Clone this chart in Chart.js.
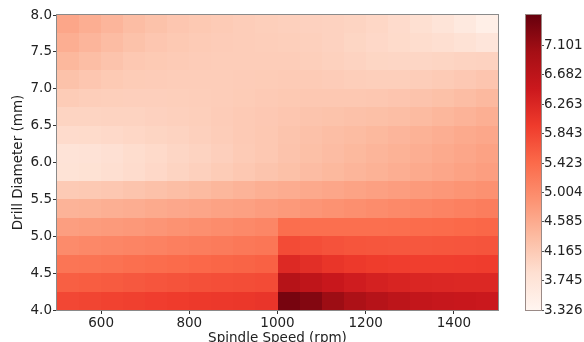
<!DOCTYPE html>
<html>
<head>
<meta charset="utf-8">
<title>Drill diameter vs spindle speed</title>
<script src="https://cdn.jsdelivr.net/npm/chart.js@4/dist/chart.umd.min.js"></script>
<style>
    html, body { margin: 0; padding: 0; background: #fff; }
    #wrap { position: relative; width: 584px; height: 342px; overflow: hidden; }
    #heat { position: absolute; left: 0; top: 0; }
    #cbar { position: absolute; left: 500px; top: 0; }
</style>
</head>
<body>
<div id="wrap">
    <canvas id="heat" width="500" height="342"></canvas>
    <canvas id="cbar" width="84" height="342"></canvas>
</div>
<script>
// cell centres (rpm, mm)
const speeds = [525, 575, 625, 675, 725, 775, 825, 875, 925, 975,
                1025, 1075, 1125, 1175, 1225, 1275, 1325, 1375, 1425, 1475];
const diameters = [7.875, 7.625, 7.375, 7.125, 6.875, 6.625, 6.375, 6.125,
                   5.875, 5.625, 5.375, 5.125, 4.875, 4.625, 4.375, 4.125];

// one row per diameter, top to bottom, one value per speed
const values = [
    [4.65, 4.55, 4.45, 4.35, 4.28, 4.22, 4.18, 4.15, 4.12, 4.10, 4.08, 4.06, 4.05, 4.02, 3.98, 3.92, 3.85, 3.75, 3.62, 3.48],
    [4.55, 4.45, 4.36, 4.28, 4.22, 4.18, 4.15, 4.13, 4.12, 4.11, 4.10, 4.08, 4.05, 4.00, 3.96, 3.93, 3.90, 3.86, 3.80, 3.72],
    [4.42, 4.33, 4.26, 4.20, 4.17, 4.15, 4.13, 4.12, 4.12, 4.12, 4.12, 4.10, 4.07, 4.03, 4.00, 3.99, 3.99, 4.01, 4.03, 4.05],
    [4.28, 4.22, 4.17, 4.14, 4.13, 4.12, 4.12, 4.12, 4.13, 4.14, 4.15, 4.15, 4.13, 4.11, 4.10, 4.10, 4.12, 4.15, 4.19, 4.23],
    [4.14, 4.11, 4.10, 4.09, 4.09, 4.10, 4.11, 4.12, 4.14, 4.16, 4.18, 4.20, 4.20, 4.20, 4.21, 4.23, 4.26, 4.30, 4.35, 4.40],
    [4.02, 4.02, 4.03, 4.04, 4.06, 4.08, 4.10, 4.13, 4.16, 4.19, 4.22, 4.25, 4.27, 4.29, 4.31, 4.34, 4.38, 4.43, 4.48, 4.53],
    [3.92, 3.93, 3.95, 3.98, 4.01, 4.04, 4.08, 4.12, 4.16, 4.20, 4.25, 4.29, 4.33, 4.37, 4.41, 4.45, 4.50, 4.55, 4.60, 4.64],
    [3.77, 3.79, 3.84, 3.89, 3.94, 3.99, 4.04, 4.09, 4.15, 4.20, 4.26, 4.31, 4.36, 4.41, 4.46, 4.50, 4.55, 4.60, 4.65, 4.70],
    [3.78, 3.81, 3.86, 3.91, 3.96, 4.02, 4.08, 4.14, 4.20, 4.25, 4.30, 4.36, 4.41, 4.46, 4.50, 4.55, 4.60, 4.65, 4.70, 4.75],
    [4.16, 4.18, 4.21, 4.25, 4.29, 4.33, 4.38, 4.43, 4.48, 4.53, 4.57, 4.61, 4.65, 4.69, 4.72, 4.76, 4.80, 4.84, 4.88, 4.92],
    [4.48, 4.50, 4.53, 4.56, 4.60, 4.63, 4.66, 4.70, 4.73, 4.77, 4.82, 4.86, 4.90, 4.94, 4.98, 5.02, 5.06, 5.10, 5.14, 5.18],
    [4.75, 4.78, 4.80, 4.83, 4.86, 4.90, 4.94, 4.98, 5.02, 5.06, 5.38, 5.37, 5.36, 5.36, 5.37, 5.38, 5.40, 5.42, 5.44, 5.46],
    [5.00, 5.03, 5.06, 5.09, 5.12, 5.15, 5.18, 5.21, 5.24, 5.27, 5.78, 5.74, 5.70, 5.67, 5.65, 5.64, 5.64, 5.65, 5.66, 5.68],
    [5.28, 5.30, 5.33, 5.36, 5.39, 5.42, 5.45, 5.48, 5.50, 5.53, 6.22, 6.14, 6.05, 5.99, 5.95, 5.93, 5.92, 5.92, 5.93, 5.94],
    [5.55, 5.58, 5.60, 5.63, 5.66, 5.69, 5.72, 5.74, 5.76, 5.78, 6.78, 6.65, 6.52, 6.42, 6.35, 6.30, 6.27, 6.25, 6.24, 6.24],
    [5.82, 5.85, 5.88, 5.90, 5.93, 5.96, 5.99, 6.00, 6.02, 6.04, 7.40, 7.30, 7.08, 6.90, 6.77, 6.67, 6.60, 6.55, 6.52, 6.50],
];

const speedTicks = [600, 800, 1000, 1200, 1400];
const diameterTicks = [4.0, 4.5, 5.0, 5.5, 6.0, 6.5, 7.0, 7.5, 8.0];
const colorTicks = [3.326, 3.745, 4.165, 4.585, 5.004, 5.423, 5.843, 6.263, 6.682, 7.101];

const vMin = 3.326;
const vMax = 7.535;
const cellW = 50;    // rpm
const cellH = 0.25;  // mm

// matplotlib "Reds"
const reds = ['#fff5f0', '#fee0d2', '#fcbba1', '#fc9272', '#fb6a4a', '#ef3b2c', '#cb181d', '#a50f15', '#67000d'];

const hexRgb = (h) => [1, 3, 5].map((i) => parseInt(h.slice(i, i + 2), 16));
const redsRgb = reds.map(hexRgb);

function colorFor(v) {
    let t = (v - vMin) / (vMax - vMin);
    t = Math.max(0, Math.min(1, t)) * (reds.length - 1);
    const i = Math.min(Math.floor(t), reds.length - 2);
    const f = t - i;
    const a = redsRgb[i], b = redsRgb[i + 1];
    const c = a.map((x, k) => Math.round(x + (b[k] - x) * f));
    return `rgb(${c[0]},${c[1]},${c[2]})`;
}

Chart.defaults.font.family = 'DejaVu Sans';
Chart.defaults.font.size = 13.5;
Chart.defaults.color = '#222';

const cells = [];
diameters.forEach((d, r) => {
    speeds.forEach((s, c) => {
        cells.push({ x: s, y: d, v: values[r][c] });
    });
});

const fixTicks = (list) => (scale) => {
    scale.ticks = list.map((value) => ({ value }));
};

// paints each cell as a rectangle spanning its bin on the scales
const heatCells = {
    id: 'heatCells',
    beforeDatasetsDraw(chart) {
        const { ctx, scales: { x, y } } = chart;
        ctx.save();
        chart.data.datasets[0].data.forEach((p) => {
            const l = Math.round(x.getPixelForValue(p.x - cellW / 2));
            const r = Math.round(x.getPixelForValue(p.x + cellW / 2));
            const t = Math.round(y.getPixelForValue(p.y + cellH / 2));
            const b = Math.round(y.getPixelForValue(p.y - cellH / 2));
            ctx.fillStyle = colorFor(p.v);
            ctx.fillRect(l, t, r - l, b - t);
        });
        ctx.restore();
    },
};

const frame = {
    id: 'frame',
    afterDatasetsDraw(chart) {
        const { ctx, chartArea: a } = chart;
        ctx.save();
        ctx.strokeStyle = '#8a8a8a';
        ctx.lineWidth = 1;
        ctx.strokeRect(Math.round(a.left) - 0.5, Math.round(a.top) - 0.5,
            Math.round(a.right - a.left) + 1, Math.round(a.bottom - a.top) + 1);
        ctx.restore();
    },
};

new Chart(document.getElementById('heat'), {
    type: 'scatter',
    data: {
        datasets: [{ data: cells, pointRadius: 0, pointHoverRadius: 0 }],
    },
    options: {
        responsive: false,
        animation: false,
        events: [],
        layout: { padding: { top: 15, right: 2, left: 0, bottom: 0 } },
        plugins: { legend: { display: false }, tooltip: { enabled: false } },
        scales: {
            x: {
                min: 500,
                max: 1500,
                afterBuildTicks: fixTicks(speedTicks),
                afterFit: (s) => { s.height = 32; },
                grid: { drawOnChartArea: false, tickLength: 4, color: '#333' },
                border: { display: false },
                ticks: { padding: 1, maxRotation: 0, callback: (v) => String(v) },
                title: {
                    display: true,
                    text: 'Spindle Speed (rpm)',
                    font: { size: 13.5 },
                    padding: { top: 0, bottom: -5 },
                },
            },
            y: {
                min: 4,
                max: 8,
                afterBuildTicks: fixTicks(diameterTicks),
                afterFit: (s) => { s.width = 57; },
                grid: { drawOnChartArea: false, tickLength: 4, color: '#333' },
                border: { display: false },
                ticks: { padding: 1, callback: (v) => v.toFixed(1) },
                title: {
                    display: true,
                    text: 'Drill Diameter (mm)',
                    font: { size: 13.5 },
                    padding: { top: 10, bottom: 0 },
                },
            },
        },
    },
    plugins: [heatCells, frame],
});

// colour bar drawn against its own value scale
const barFill = {
    id: 'barFill',
    beforeDatasetsDraw(chart) {
        const { ctx, chartArea: a, scales: { y } } = chart;
        const g = ctx.createLinearGradient(0, y.getPixelForValue(vMin), 0, y.getPixelForValue(vMax));
        reds.forEach((c, i) => g.addColorStop(i / (reds.length - 1), c));
        ctx.save();
        ctx.fillStyle = g;
        ctx.fillRect(a.left, a.top, a.right - a.left, a.bottom - a.top);
        ctx.restore();
    },
};

const barFrame = {
    id: 'barFrame',
    afterDatasetsDraw(chart) {
        const { ctx, chartArea: a } = chart;
        ctx.save();
        ctx.strokeStyle = '#9a8a86';
        ctx.lineWidth = 1;
        ctx.strokeRect(Math.round(a.left) - 0.5, Math.round(a.top) - 0.5,
            Math.round(a.right - a.left) + 1, Math.round(a.bottom - a.top) + 1);
        ctx.restore();
    },
};

new Chart(document.getElementById('cbar'), {
    type: 'scatter',
    data: { datasets: [{ data: [] }] },
    options: {
        responsive: false,
        animation: false,
        events: [],
        layout: { padding: { top: 15, left: 26, right: 0, bottom: 32 } },
        plugins: { legend: { display: false }, tooltip: { enabled: false } },
        scales: {
            x: { display: false, min: 0, max: 1 },
            y: {
                position: 'right',
                min: vMin,
                max: vMax,
                afterBuildTicks: fixTicks(colorTicks),
                afterFit: (s) => { s.width = 43; },
                grid: { drawOnChartArea: false, tickLength: 3, color: '#555' },
                border: { display: false },
                ticks: { padding: 0, callback: (v) => v.toFixed(3) },
            },
        },
    },
    plugins: [barFill, barFrame],
});
</script>
</body>
</html>
